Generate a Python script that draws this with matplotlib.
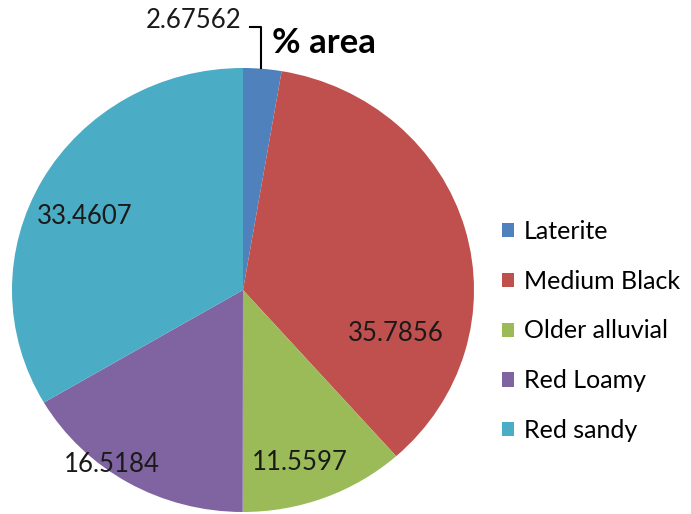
import matplotlib
matplotlib.use("Agg")
import matplotlib.pyplot as plt
from matplotlib.patches import Patch

plt.rcParams['font.family'] = ['Lato', 'DejaVu Sans']

# data
soils = ['Laterite', 'Medium Black', 'Older alluvial', 'Red Loamy', 'Red sandy']
area = [2.67562, 35.7856, 11.5597, 16.5184, 33.4607]
value_labels = ['2.67562', '35.7856', '11.5597', '16.5184', '33.4607']
colors = ['#4F81BD', '#C0504D', '#9BBB59', '#8064A2', '#4BACC6']

# label spots (axes data coords, pie radius = 1)
label_xy = [(-0.216, 1.216), (0.662, -0.194), (0.247, -0.779), (-0.567, -0.788), (-0.684, 0.333)]

fig = plt.figure(figsize=(6.91, 5.14), dpi=100)
ax = fig.add_axes([12 / 691, 2 / 514, 462 / 691, 444 / 514])
wedges, _ = ax.pie(area, colors=colors, startangle=90, counterclock=False, radius=1,
                   wedgeprops=dict(linewidth=0))
ax.set_aspect('auto')
ax.set_xlim(-1, 1)
ax.set_ylim(-1, 1)
ax.axis('off')

for txt, (x, y) in zip(value_labels, label_xy):
    ax.text(x, y, txt, ha='center', va='center', fontsize=18.5, color='#1a1a1a', clip_on=False)

# leader line for the small slice
ax.plot([0.03, 0.078, 0.078], [1.185, 1.185, 1.0], color='black', lw=1.5, clip_on=False)

fig.text(324 / 691, 1 - 43 / 514, '% area', ha='center', va='center', fontsize=25, fontweight='bold')

handles = [Patch(facecolor=c, edgecolor='none') for c in colors]
fig.legend(handles, soils, loc='center left', bbox_to_anchor=(479 / 691, 1 - 331 / 514),
           frameon=False, fontsize=18, handlelength=0.5, handleheight=0.5,
           handletextpad=0.4, labelspacing=1.07)

fig.savefig('out.png', dpi=100)
